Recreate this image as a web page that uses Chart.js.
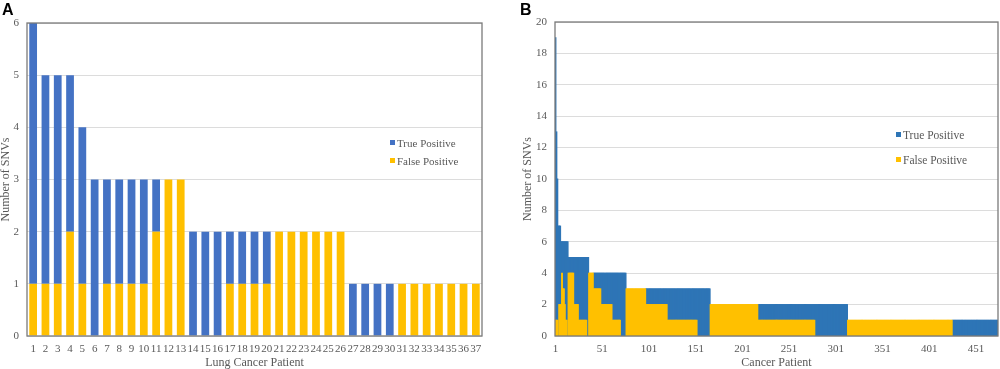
<!DOCTYPE html>
<html>
<head>
<meta charset="utf-8">
<script src="https://cdn.jsdelivr.net/npm/chart.js@4.4.0/dist/chart.umd.min.js"></script>
<style>
  body { margin: 0; background: #fff; width: 1000px; height: 369px; position: relative; overflow: hidden; font-family: "Liberation Serif", serif; }
  .panel { position: absolute; top: 0; height: 369px; }
  #panelA { left: 0; width: 495px; }
  #panelB { left: 500px; width: 500px; }
  .letter { position: absolute; font-family: "Liberation Sans", Arial, sans-serif; font-weight: bold; font-size: 16px; line-height: 16px; color: #000; }
  .legend { position: absolute; color: #595959; white-space: nowrap; line-height: 14px; }
  .legend .sw { display: inline-block; width: 5px; height: 5px; margin-right: 2px; vertical-align: 2px; }
</style>
</head>
<body>
<div class="panel" id="panelA"><canvas id="chartA" width="495" height="369"></canvas></div>
<div class="panel" id="panelB"><canvas id="chartB" width="500" height="369"></canvas></div>

<div class="letter" style="left:2px; top:2px;">A</div>
<div class="letter" style="left:520px; top:2px;">B</div>

<div class="legend" style="left:390px; top:136px; font-size:11px;"><span class="sw" style="background:#4472C4"></span>True Positive</div>
<div class="legend" style="left:390px; top:154px; font-size:11px;"><span class="sw" style="background:#FFC000"></span>False Positive</div>
<div class="legend" style="left:896px; top:128px; font-size:11.5px;"><span class="sw" style="background:#2E75B6"></span>True Positive</div>
<div class="legend" style="left:896px; top:153px; font-size:11.5px;"><span class="sw" style="background:#FFC000"></span>False Positive</div>

<script>
// Panel A: lung cancer patients
const patientsA = ['1','2','3','4','5','6','7','8','9','10','11','12','13','14','15','16','17','18','19',
                   '20','21','22','23','24','25','26','27','28','29','30','31','32','33','34','35','36','37'];
const truePosA  = [5,4,4,3,3,3,2,2,2,2,1,0,0,2,2,2,1,1,1,1,0,0,0,0,0,0,1,1,1,1,0,0,0,0,0,0,0];
const falsePosA = [1,1,1,2,1,0,1,1,1,1,2,3,3,0,0,0,1,1,1,1,2,2,2,2,2,2,0,0,0,0,1,1,1,1,1,1,1];

// Panel B: all cancer patients, read as runs of identical bars
const runLengthB = [1, 1, 1, 1, 2, 1, 1, 2, 1, 2, 1, 6, 5, 9, 2, 5, 8, 12, 9, 6, 21, 23, 32, 14, 51, 61, 35, 112, 49];
const runTruePosB  = [18, 12, 9, 7, 5, 4, 2, 3, 4, 5, 6, 1, 3, 4, 5, 0, 1, 2, 3, 4, 0, 1, 2, 3, 0, 1, 2, 0, 1];
const runFalsePosB = [1, 1, 1, 0, 2, 2, 4, 3, 2, 1, 0, 4, 2, 1, 0, 4, 3, 2, 1, 0, 3, 2, 1, 0, 2, 1, 0, 1, 0];
const tickStepB = 50;

const patientsB = [];
const truePosB = [];
const falsePosB = [];
runLengthB.forEach(function(n, r) {
    for (let k = 0; k < n; k++) {
        patientsB.push(String(patientsB.length + 1));
        truePosB.push(runTruePosB[r]);
        falsePosB.push(runFalsePosB[r]);
    }
});

// empty segments are left out so they draw nothing
function skipZero(arr) {
    return arr.map(function(v) { return v === 0 ? null : v; });
}

const textColor = '#595959';
const serif = '"Liberation Serif", "Times New Roman", serif';

// box around the plot area
const framePlugin = {
    id: 'frame',
    afterDatasetsDraw(chart) {
        const ctx = chart.ctx;
        const a = chart.chartArea;
        ctx.save();
        ctx.strokeStyle = '#7a7a7a';
        ctx.lineWidth = 1.3;
        ctx.strokeRect(a.left, a.top, a.right - a.left, a.bottom - a.top);
        ctx.restore();
    }
};

function makeScales(yMax, yStep, xTitle, yTitlePad, yWidth, tickCb) {
    return {
        x: {
            stacked: true,
            grid: { display: false, drawTicks: false },
            border: { display: false },
            ticks: {
                color: textColor, font: { family: serif, size: 11 },
                maxRotation: 0, minRotation: 0, autoSkip: false, padding: 7,
                callback: tickCb
            },
            title: {
                display: true, text: xTitle, color: textColor,
                font: { family: serif, size: 12, lineHeight: 1 }, padding: { top: 0, bottom: 0 }
            },
            afterFit: function(s) {
                s.height = 33;
                s.paddingLeft = 0;
                s.paddingRight = 0;
            }
        },
        y: {
            stacked: true, min: 0, max: yMax,
            grid: { color: '#dcdcdc', drawTicks: false },
            border: { display: false },
            ticks: { stepSize: yStep, color: textColor, font: { family: serif, size: 11 }, padding: 8 },
            title: {
                display: true, text: 'Number of SNVs', color: textColor,
                font: { family: serif, size: 12, lineHeight: 1 }, padding: { top: yTitlePad, bottom: 0 }
            },
            afterFit: function(s) { s.width = yWidth; }
        }
    };
}

new Chart(document.getElementById('chartA'), {
    type: 'bar',
    data: {
        labels: patientsA,
        datasets: [
            { label: 'False Positive', data: skipZero(falsePosA), backgroundColor: '#FFC000', borderWidth: 0 },
            { label: 'True Positive', data: skipZero(truePosA), backgroundColor: '#4472C4', borderWidth: 0 }
        ]
    },
    options: {
        responsive: false,
        animation: false,
        layout: { padding: { left: 0, top: 23, right: 13, bottom: 0 } },
        datasets: { bar: { categoryPercentage: 1, barPercentage: 0.63 } },
        plugins: { legend: { display: false }, tooltip: { enabled: false } },
        scales: makeScales(6, 1, 'Lung Cancer Patient', 0, 27, function(v, i) { return patientsA[i]; })
    },
    plugins: [framePlugin]
});

new Chart(document.getElementById('chartB'), {
    type: 'bar',
    data: {
        labels: patientsB,
        datasets: [
            { label: 'False Positive', data: skipZero(falsePosB), backgroundColor: '#FFC000', borderWidth: 0, inflateAmount: 0.5 },
            { label: 'True Positive', data: skipZero(truePosB), backgroundColor: '#2E75B6', borderWidth: 0, inflateAmount: 0.5 }
        ]
    },
    options: {
        responsive: false,
        animation: false,
        layout: { padding: { left: 0, top: 22, right: 2, bottom: 0 } },
        datasets: { bar: { categoryPercentage: 1, barPercentage: 1 } },
        plugins: { legend: { display: false }, tooltip: { enabled: false } },
        scales: makeScales(20, 2, 'Cancer Patient', 22, 55, function(v, i) {
            return i % tickStepB === 0 ? patientsB[i] : '';
        })
    },
    plugins: [framePlugin]
});
</script>
</body>
</html>
